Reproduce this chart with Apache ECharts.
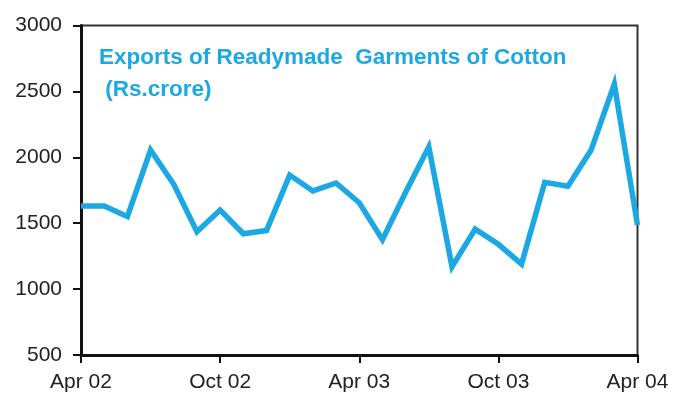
<!DOCTYPE html>
<html>
<head>
<meta charset="utf-8">
<style>
  html, body { margin: 0; padding: 0; background: #ffffff; }
  #chart { width: 683px; height: 396px; }
</style>
<script src="https://cdn.jsdelivr.net/npm/echarts@6/dist/echarts.min.js"></script>
</head>
<body>
<div id="chart"></div>
<script>
// Monthly exports of readymade cotton garments, Apr 2002 – Apr 2004 (Rs. crore)
const months = [
  'Apr 02', 'May 02', 'Jun 02', 'Jul 02', 'Aug 02', 'Sep 02', 'Oct 02', 'Nov 02', 'Dec 02',
  'Jan 03', 'Feb 03', 'Mar 03', 'Apr 03', 'May 03', 'Jun 03', 'Jul 03', 'Aug 03', 'Sep 03',
  'Oct 03', 'Nov 03', 'Dec 03', 'Jan 04', 'Feb 04', 'Mar 04', 'Apr 04'
];
const exportsValues = [
  1630, 1630, 1550, 2055, 1795, 1435, 1600, 1420, 1445,
  1865, 1745, 1805, 1655, 1375, 1735, 2080, 1170, 1455,
  1340, 1190, 1810, 1780, 2055, 2555, 1485
];
const yTicks = { min: 500, max: 3000, step: 500 };
const titleLines = ['Exports of Readymade  Garments of Cotton', ' (Rs.crore)'];

const lineColor = '#1ba8e3';
const font = 'Liberation Sans, Arial, Helvetica, sans-serif';

const chart = echarts.init(document.getElementById('chart'), null, { renderer: 'canvas' });
chart.setOption({
  animation: false,
  backgroundColor: '#ffffff',
  title: {
    text: titleLines.join('\n'),
    left: 94,
    top: 37,
    textStyle: {
      color: lineColor,
      fontFamily: font,
      fontWeight: 'bold',
      fontSize: 22.5,
      lineHeight: 32
    }
  },
  grid: {
    left: 81,
    right: 45.5,
    top: 25.5,
    bottom: 41,
    show: true,
    borderColor: '#333333',
    borderWidth: 2,
    backgroundColor: 'transparent'
  },
  xAxis: {
    type: 'category',
    data: months,
    boundaryGap: false,
    axisLine: { lineStyle: { color: '#111111', width: 3 } },
    axisTick: { show: true, interval: 5, length: 8, lineStyle: { color: '#111111', width: 2 } },
    axisLabel: {
      interval: 5,
      margin: 17,
      color: '#222222',
      fontFamily: font,
      fontSize: 21
    },
    splitLine: { show: false }
  },
  yAxis: {
    type: 'value',
    min: yTicks.min,
    max: yTicks.max,
    interval: yTicks.step,
    axisLine: { show: true, lineStyle: { color: '#111111', width: 3 } },
    axisTick: { show: true, length: 8, lineStyle: { color: '#111111', width: 2 } },
    axisLabel: {
      margin: 19,
      color: '#222222',
      fontFamily: font,
      fontSize: 21,
      padding: [0, 0, 10, 0],
      formatter: (v) => String(v)
    },
    splitLine: { show: false }
  },
  series: [{
    type: 'line',
    data: exportsValues,
    showSymbol: false,
    smooth: false,
    clip: false,
    lineStyle: { color: lineColor, width: 5.5, join: 'miter' },
    itemStyle: { color: lineColor }
  }]
});
</script>
</body>
</html>
